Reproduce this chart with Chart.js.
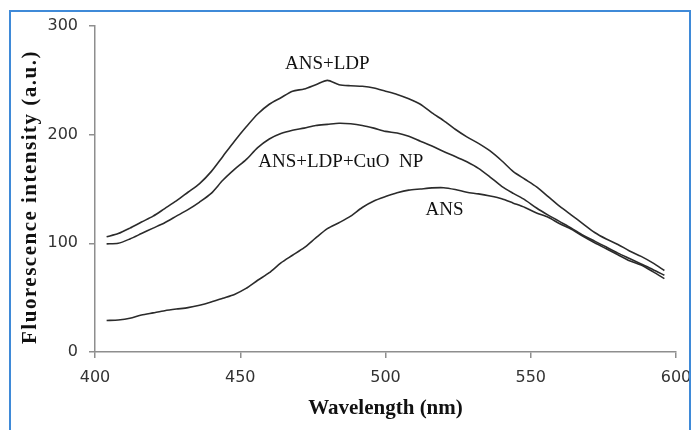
<!DOCTYPE html>
<html>
<head>
<meta charset="utf-8">
<script src="https://cdn.jsdelivr.net/npm/chart.js@4/dist/chart.umd.min.js"></script>
<style>
  html, body { margin: 0; padding: 0; background: #fff; }
  #wrap { position: relative; width: 692px; height: 430px; overflow: hidden; }
  #frame {
    position: absolute; left: 9px; top: 10px; width: 678px; height: 500px;
    border: 2px solid #3f8ad8; border-bottom: none; pointer-events: none;
  }
</style>
</head>
<body>
<div id="wrap">
  <canvas id="myChart" width="692" height="430"></canvas>
  <div id="frame"></div>
</div>
<script>
// emission spectra, wavelength in nm
var wavelengths = [404, 408, 412, 416, 420, 424, 428, 432, 436, 440, 444, 448, 452, 456, 460, 464,
  468, 472, 476, 480, 484, 488, 492, 496, 500, 504, 508, 512, 516, 520, 524, 528, 532, 536,
  540, 544, 548, 552, 556, 560, 564, 568, 572, 576, 580, 584, 588, 592, 596]

var ansLdp = [106, 109, 114, 119.6, 125, 132, 139, 147, 155, 166, 180, 194, 207, 219, 228, 234,
  240, 242, 246, 250, 246, 245, 244.5, 243, 240, 237, 233, 228, 220, 213, 205, 198, 192, 185,
  176, 166, 159, 152, 143, 134, 126, 118, 110, 104, 99, 93, 88, 82, 75]

var ansLdpCuo = [99.5, 100, 104, 109, 114, 119, 125, 131, 138, 146, 158, 168, 177, 188, 196, 201,
  204, 206, 208.5, 209.5, 210.5, 210, 208.5, 206, 203, 201.5, 198.5, 194, 189.5, 184.5, 180, 175, 169, 161,
  152.5, 146, 140, 132.5, 126, 120, 114, 107.5, 102, 96.6, 91, 86, 81, 76, 70.6]

var ans = [29, 29.5, 31, 34, 36, 38, 39.5, 40.8, 43, 46, 49.5, 53, 58.5, 66, 73, 82,
  89, 96, 105, 113.5, 119, 125, 133, 139, 143, 146.5, 149, 150, 151, 151.2, 149.5, 147, 145.5, 143.5,
  141, 137, 133, 128, 124, 118, 113, 106.5, 100.5, 95, 89.5, 84, 80, 74, 67.5]

var xTicks = [400, 450, 500, 550, 600]
var yTicks = [0, 100, 200, 300]

// curve labels: text, wavelength, intensity (left edge / baseline)
var curveLabels = [
  ['ANS+LDP', 465.4, 260.8],
  ['ANS+LDP+CuO  NP', 456.2, 170.2],
  ['ANS', 513.8, 125.8]
]

function toPoints(values) {
  return values.map(function(v, i) { return { x: wavelengths[i], y: v } })
}

var lineStyle = {
  borderColor: '#2b2b2b',
  borderWidth: 1.6,
  pointRadius: 0,
  tension: 0.25,
  fill: false
}

var axisColor = '#8e8e8e'
var tickFont = { family: 'DejaVu Sans', size: 16 }

var labelsPlugin = {
  id: 'curveLabels',
  afterDraw: function(chart) {
    var ctx = chart.ctx
    var xs = chart.scales.x
    var ys = chart.scales.y
    ctx.save()
    ctx.fillStyle = '#111'
    ctx.font = '19px "Liberation Serif"'
    ctx.textAlign = 'left'
    ctx.textBaseline = 'alphabetic'
    curveLabels.forEach(function(l) {
      ctx.fillText(l[0], xs.getPixelForValue(l[1]), ys.getPixelForValue(l[2]))
    })
    // y axis title, slightly spaced out
    ctx.font = 'bold 21px "Liberation Serif"'
    ctx.letterSpacing = '1.5px'
    ctx.textAlign = 'center'
    ctx.textBaseline = 'middle'
    ctx.translate(31, (chart.chartArea.top + chart.chartArea.bottom) / 2 + 8)
    ctx.rotate(-Math.PI / 2)
    ctx.fillText('Fluorescence intensity (a.u.)', 0, 0)
    ctx.restore()
  }
}

new Chart(document.getElementById('myChart'), {
  type: 'line',
  data: {
    datasets: [
      Object.assign({ label: 'ANS+LDP', data: toPoints(ansLdp) }, lineStyle),
      Object.assign({ label: 'ANS+LDP+CuO NP', data: toPoints(ansLdpCuo) }, lineStyle),
      Object.assign({ label: 'ANS', data: toPoints(ans) }, lineStyle)
    ]
  },
  options: {
    responsive: false,
    animation: false,
    layout: { padding: { left: 0, top: 26, right: 0, bottom: 0 } },
    plugins: { legend: { display: false }, tooltip: { enabled: false } },
    scales: {
      x: {
        type: 'linear',
        min: 400,
        max: 600,
        afterBuildTicks: function(scale) { scale.ticks = xTicks.map(function(v) { return { value: v } }) },
        afterFit: function(scale) {
          scale.height = 78
          scale.paddingRight = 16
        },
        grid: { drawOnChartArea: false, drawTicks: true, tickLength: 6, color: axisColor, lineWidth: 1.5 },
        border: { color: axisColor, width: 1.5 },
        ticks: { font: tickFont, color: '#333', padding: 10, maxRotation: 0 },
        title: {
          display: true,
          text: 'Wavelength (nm)',
          color: '#111',
          font: { family: 'Liberation Serif', size: 21, weight: 'bold' },
          padding: { top: 0, bottom: 9 }
        }
      },
      y: {
        min: 0,
        max: 300,
        afterBuildTicks: function(scale) { scale.ticks = yTicks.map(function(v) { return { value: v } }) },
        afterFit: function(scale) { scale.width = 95 },
        grid: { drawOnChartArea: false, drawTicks: true, tickLength: 6, color: axisColor, lineWidth: 1.5 },
        border: { color: axisColor, width: 1.5 },
        ticks: { font: tickFont, color: '#333', padding: 11 }
      }
    }
  },
  plugins: [labelsPlugin]
})
</script>
</body>
</html>
